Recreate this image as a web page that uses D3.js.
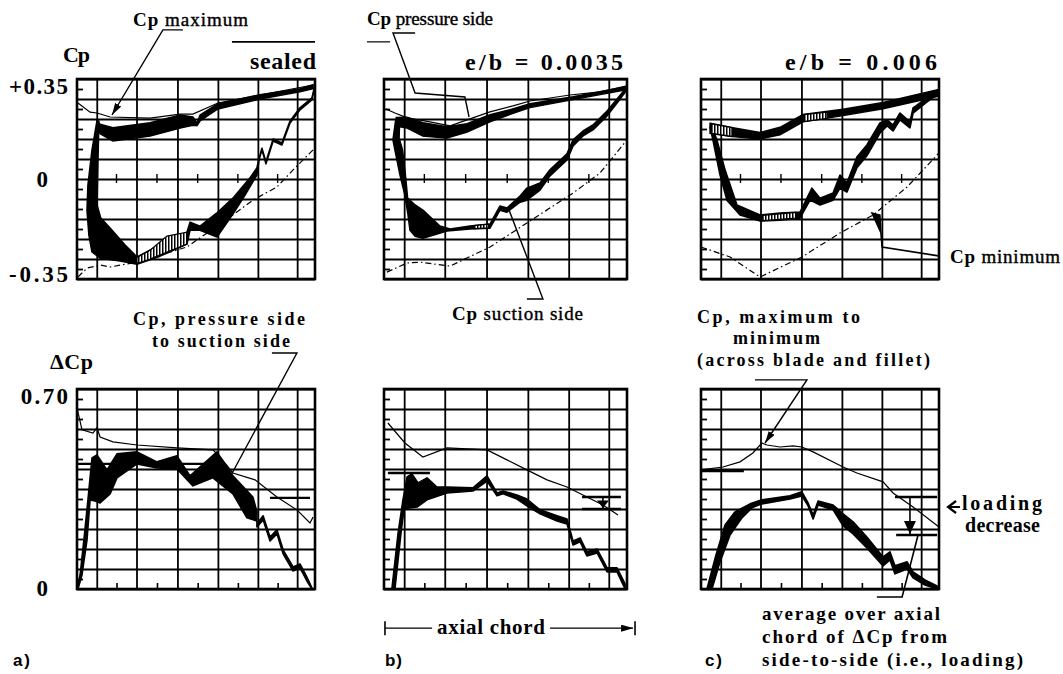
<!DOCTYPE html>
<html><head><meta charset="utf-8">
<script src="https://cdn.jsdelivr.net/npm/d3@7"></script>
<style>body{margin:0;background:#fff}</style>
</head><body>
<svg id="chart" width="1063" height="674"></svg>
<script>
// ---------------- axis / grid values ----------------
const xGridLines = [0.083, 0.25, 0.422, 0.592, 0.76, 0.925];
const xMinorTicks = [0.166, 0.336, 0.507, 0.676, 0.843];
const cpGridLines = [-0.35,-0.28,-0.21,-0.14,-0.07,0,0.07,0.14,0.21,0.28,0.35];
const cpMinorTicks = [-0.315,-0.245,-0.175,-0.105,-0.035,0.035,0.105,0.175,0.245,0.315];
const dcpGridLines = [0,0.07,0.14,0.21,0.28,0.35,0.42,0.49,0.56,0.63,0.70];
const dcpMinorTicks = [0.035,0.105,0.175,0.245,0.315,0.385,0.455,0.525,0.595,0.665];
const cpTickValues = [0.35, 0, -0.35];
const cpTickLabels = ["+0.35", "0", "-0.35"];
const dcpTickValues = [0.70, 0];
const dcpTickLabels = ["0.70", "0"];

// ---------------- (a) sealed : Cp ----------------
const tlMax = [[0.004,0.266],[0.055,0.234],[0.084,0.231],[0.139,0.217],[0.307,0.213],[0.433,0.227],[0.487,0.227],[0.592,0.266],[0.769,0.294],[0.992,0.329]];
const tlMin = [[0.004,-0.343],[0.042,-0.312],[0.097,-0.301],[0.139,-0.308],[0.252,-0.291],[0.462,-0.238],[0.655,-0.126],[0.739,-0.074],[0.840,-0.028],[0.908,0.032],[0.992,0.102]];
const tlPressure = [[0.084,0.186,0.205],[0.097,0.158,0.192],[0.151,0.133,0.180],[0.307,0.150,0.197],[0.433,0.178,0.224],[0.487,0.188,0.217],[0.504,0.186,0.196],[0.517,0.203,0.224],[0.592,0.245,0.264],[0.769,0.280,0.295],[0.937,0.305,0.316],[0.992,0.316,0.330]];
const tlSuctionA = [[0.084,0.203],[0.063,0.101],[0.046,-0.021],[0.042,-0.109],[0.050,-0.196],[0.063,-0.255],[0.097,-0.277],[0.181,-0.287],[0.252,-0.298],[0.349,-0.270],[0.462,-0.228],[0.475,-0.179],[0.517,-0.179],[0.588,-0.203],[0.655,-0.123],[0.706,-0.056],[0.756,0.014],[0.765,0.067],[0.777,0.102],[0.794,0.053],[0.824,0.133],[0.861,0.119],[0.895,0.196],[0.937,0.242],[0.987,0.277],[1.0,0.326]];
const tlSuctionB = [[0.092,0.203],[0.088,0.067],[0.084,-0.091],[0.100,-0.137],[0.139,-0.172],[0.202,-0.231],[0.252,-0.273],[0.349,-0.231],[0.462,-0.186],[0.475,-0.151],[0.517,-0.165],[0.588,-0.119],[0.655,-0.067],[0.727,0.004],[0.756,0.039],[0.765,0.072],[0.777,0.108],[0.794,0.060],[0.824,0.140],[0.861,0.126],[0.895,0.203],[0.937,0.249],[0.987,0.284],[1.0,0.329]];
const tlHatch = [[0.252,-0.296,-0.275],[0.307,-0.280,-0.249],[0.378,-0.256,-0.200],[0.462,-0.228,-0.186]];

// ---------------- (b) e/b = 0.0035 : Cp ----------------
const tmMax = [[0.008,0.245],[0.045,0.231],[0.095,0.214],[0.189,0.200],[0.272,0.186],[0.342,0.207],[0.436,0.235],[0.531,0.256],[0.601,0.273],[0.765,0.294],[0.889,0.305],[1.0,0.326]];
const tmMin = [[0.012,-0.326],[0.095,-0.294],[0.148,-0.291],[0.272,-0.305],[0.436,-0.238],[0.588,-0.154],[0.778,-0.049],[0.889,0.021],[1.0,0.137]];
const tmPressure = [[0.050,0.185,0.215],[0.095,0.178,0.216],[0.160,0.150,0.197],[0.259,0.143,0.183],[0.342,0.164,0.194],[0.436,0.200,0.225],[0.519,0.226,0.243],[0.601,0.250,0.264],[0.778,0.278,0.288],[1.0,0.313,0.323]];
const tmSuctionA = [[0.048,0.205],[0.037,0.137],[0.045,0.102],[0.066,0.014],[0.086,-0.056],[0.099,-0.126],[0.107,-0.179],[0.128,-0.200],[0.160,-0.207],[0.259,-0.182],[0.354,-0.175],[0.436,-0.172],[0.477,-0.109],[0.506,-0.116],[0.560,-0.081],[0.588,-0.074],[0.642,-0.039],[0.683,0.011],[0.753,0.067],[0.778,0.116],[0.819,0.151],[0.860,0.172],[0.918,0.221],[0.959,0.266],[1.0,0.312]];
const tmSuctionB = [[0.064,0.205],[0.062,0.144],[0.076,0.102],[0.088,0.014],[0.097,-0.067],[0.128,-0.091],[0.160,-0.109],[0.230,-0.165],[0.272,-0.175],[0.354,-0.165],[0.436,-0.158],[0.477,-0.095],[0.506,-0.102],[0.560,-0.060],[0.588,-0.032],[0.642,-0.014],[0.683,0.032],[0.753,0.088],[0.778,0.137],[0.819,0.168],[0.860,0.189],[0.918,0.238],[0.959,0.280],[1.0,0.322]];
const tmHatch = [[0.37,-0.174,-0.163],[0.43,-0.171,-0.158]];

// ---------------- (c) e/b = 0.006 : Cp ----------------
const trMin = [[0,-0.238],[0.122,-0.273],[0.248,-0.343],[0.424,-0.273],[0.584,-0.189],[0.723,-0.126],[0.866,-0.028],[1.0,0.091]];
const trPressure = [[0.038,0.160,0.195],[0.122,0.149,0.181],[0.248,0.140,0.163],[0.332,0.155,0.181],[0.429,0.200,0.226],[0.597,0.222,0.244],[0.765,0.246,0.268],[1.0,0.290,0.314]];
const trSuctionA = [[0.038,0.182],[0.050,0.137],[0.080,0.014],[0.109,-0.074],[0.164,-0.126],[0.248,-0.147],[0.332,-0.144],[0.416,-0.137],[0.458,-0.074],[0.500,-0.091],[0.555,-0.074],[0.584,-0.032],[0.613,-0.046],[0.655,0.039],[0.697,0.081],[0.752,0.161],[0.782,0.186],[0.807,0.168],[0.836,0.207],[0.878,0.179],[0.891,0.231],[0.950,0.270],[1.0,0.301]];
const trSuctionB = [[0.042,0.189],[0.067,0.137],[0.101,0.032],[0.151,-0.091],[0.248,-0.126],[0.332,-0.119],[0.416,-0.116],[0.466,-0.032],[0.500,-0.067],[0.555,-0.049],[0.584,0.014],[0.613,-0.014],[0.655,0.077],[0.697,0.119],[0.752,0.196],[0.782,0.207],[0.807,0.189],[0.836,0.231],[0.878,0.200],[0.891,0.249],[0.950,0.284],[1.0,0.312]];
const trHatchLE = [[0.045,0.160,0.193],[0.13,0.149,0.180]];
const trHatchMid = [[0.43,0.201,0.225],[0.53,0.212,0.234]];
const trHatchLow = [[0.26,-0.146,-0.127],[0.40,-0.137,-0.117]];

// ---------------- (a) sealed : delta Cp ----------------
const blMaxMin = [[0,0.634],[0.021,0.557],[0.067,0.546],[0.084,0.564],[0.097,0.532],[0.151,0.515],[0.252,0.504],[0.420,0.494],[0.571,0.487],[0.601,0.462],[0.655,0.406],[0.748,0.382],[0.840,0.322],[0.924,0.277],[0.979,0.231],[0.992,0.252]];
const blLoadA = [[0.004,0],[0.021,0.049],[0.042,0.172],[0.055,0.312],[0.076,0.308],[0.097,0.301],[0.139,0.333],[0.168,0.389],[0.252,0.438],[0.336,0.424],[0.420,0.420],[0.487,0.361],[0.571,0.389],[0.655,0.333],[0.714,0.249],[0.756,0.238],[0.756,0.217],[0.782,0.242],[0.811,0.168],[0.840,0.193],[0.866,0.123],[0.908,0.063],[0.937,0.074],[0.966,0.028],[0.987,0]];
const blLoadB = [[0,0],[0.013,0.049],[0.029,0.172],[0.046,0.312],[0.063,0.459],[0.084,0.469],[0.126,0.417],[0.168,0.473],[0.252,0.480],[0.336,0.445],[0.420,0.466],[0.475,0.396],[0.588,0.480],[0.655,0.396],[0.739,0.322],[0.756,0.270],[0.756,0.228],[0.782,0.256],[0.811,0.182],[0.840,0.207],[0.866,0.137],[0.908,0.077],[0.937,0.088],[0.966,0.042],[0.987,0.004]];
const blAverages = [[0,0.55,0.438],[0.811,0.979,0.319]];

// ---------------- (b) e/b = 0.0035 : delta Cp ----------------
const bmMaxMin = [[0.016,0.581],[0.086,0.511],[0.160,0.462],[0.259,0.494],[0.424,0.487],[0.506,0.452],[0.588,0.417],[0.671,0.382],[0.753,0.357],[0.835,0.322],[0.901,0.294],[0.963,0.259]];
const bmLoadA = [[0.045,0],[0.070,0.196],[0.082,0.277],[0.107,0.284],[0.136,0.287],[0.177,0.312],[0.259,0.336],[0.366,0.343],[0.424,0.378],[0.465,0.326],[0.490,0.333],[0.547,0.315],[0.588,0.291],[0.642,0.263],[0.712,0.238],[0.753,0.228],[0.778,0.154],[0.807,0.165],[0.835,0.116],[0.877,0.126],[0.918,0.060],[0.959,0.060],[0.992,0]];
const bmLoadB = [[0.033,0.004],[0.058,0.196],[0.078,0.312],[0.095,0.392],[0.115,0.403],[0.140,0.371],[0.177,0.389],[0.218,0.357],[0.259,0.357],[0.366,0.354],[0.424,0.396],[0.465,0.336],[0.490,0.343],[0.547,0.329],[0.588,0.315],[0.642,0.277],[0.712,0.256],[0.753,0.245],[0.778,0.168],[0.807,0.179],[0.835,0.130],[0.877,0.140],[0.918,0.074],[0.959,0.074],[0.992,0.018]];
const bmAverages = [[0.016,0.189,0.406],[0.815,0.975,0.322],[0.815,0.975,0.280]];
const bmDecrease = [0.901, 0.322, 0.280];

// ---------------- (c) e/b = 0.006 : delta Cp ----------------
const brMaxMin = [[0,0.417],[0.092,0.427],[0.164,0.445],[0.218,0.476],[0.256,0.511],[0.277,0.504],[0.332,0.497],[0.387,0.501],[0.424,0.497],[0.471,0.480],[0.597,0.427],[0.655,0.406],[0.765,0.375],[0.807,0.336],[0.891,0.287],[1.0,0.217]];
const brLoadA = [[0.046,0],[0.080,0.095],[0.122,0.189],[0.172,0.249],[0.214,0.284],[0.256,0.298],[0.374,0.315],[0.424,0.326],[0.450,0.291],[0.471,0.245],[0.492,0.294],[0.555,0.277],[0.597,0.221],[0.639,0.193],[0.697,0.144],[0.765,0.081],[0.794,0.102],[0.815,0.053],[0.866,0.070],[0.891,0.039],[0.941,0.014],[0.992,0]];
const brLoadB = [[0.025,0],[0.063,0.119],[0.101,0.224],[0.143,0.270],[0.206,0.298],[0.256,0.312],[0.374,0.326],[0.424,0.340],[0.450,0.301],[0.471,0.259],[0.492,0.308],[0.555,0.294],[0.597,0.263],[0.639,0.235],[0.697,0.182],[0.765,0.112],[0.794,0.130],[0.815,0.081],[0.866,0.095],[0.891,0.060],[0.941,0.032],[0.992,0.011]];
const brAverages = [[0,0.18,0.413],[0.815,0.992,0.322],[0.82,0.992,0.189]];
const brDecrease = [0.878, 0.322, 0.189];

// ---------------- annotation leaders (panel data coordinates) ----------------
const leaderCpMax = [[0.445,0.522],[0.361,0.522],[0.147,0.224]];
const overlineSealed = [[0.651,0.480],[1.0,0.480]];
const leaderPressure = [[0.128,0.511],[0.037,0.511],[0.128,0.301],[0.333,0.287],[0.350,0.217]];
const dashPressure = [[-0.07,0.480],[0.025,0.480]];
const leaderSuction = [[0.510,-0.098],[0.654,-0.42],[0.588,-0.42]];
const wedgeCpMin = [[0.718,-0.119],[0.752,-0.126],[0.756,-0.189]];
const leaderCpMin = [[0.756,-0.189],[0.761,-0.238],[1.004,-0.270]];
const leaderPsSs = [[0.819,0.826],[0.924,0.826],[0.643,0.392]];
const leaderMaxMin = [[0.227,0.732],[0.445,0.732],[0.269,0.511]];
const leaderAverage = [[0.739,-0.028],[0.845,-0.028],[0.912,0.189]];
const axialChordLeft = [[0.004,-0.137],[0.198,-0.137]];
const axialChordRight = [[0.683,-0.137],[1.025,-0.137]];
const axialChordEnds = [0.004, 1.033];

// ---------------- layout ----------------
const colX = [77, 384, 701], colW = [238, 243, 238];
const rowY = [79, 389], rowH = 200;
const serif = "'Liberation Serif','Times New Roman',serif";
const sans = "'Liberation Sans',Arial,sans-serif";

const panels = [
  {col:0,row:0, thin:[tlMax], dash:[tlMin], bands:[tlPressure], polys:[[tlSuctionA,tlSuctionB]], hatch:[tlHatch]},
  {col:1,row:0, thin:[tmMax], dash:[tmMin], bands:[tmPressure], polys:[[tmSuctionA,tmSuctionB]], hatch:[tmHatch]},
  {col:2,row:0, thin:[], dash:[trMin], bands:[trPressure], polys:[[trSuctionA,trSuctionB]], hatch:[trHatchLE,trHatchMid,trHatchLow]},
  {col:0,row:1, thin:[blMaxMin], dash:[], bands:[], polys:[[blLoadA,blLoadB]], hatch:[], avg:blAverages},
  {col:1,row:1, thin:[bmMaxMin], dash:[], bands:[], polys:[[bmLoadA,bmLoadB]], hatch:[], avg:bmAverages, dec:bmDecrease},
  {col:2,row:1, thin:[brMaxMin], dash:[], bands:[], polys:[[brLoadA,brLoadB]], hatch:[], avg:brAverages, dec:brDecrease}
];

const svg = d3.select("#chart");
svg.append("rect").attr("width",1063).attr("height",674).attr("fill","#fff");
const defs = svg.append("defs");
const pat = defs.append("pattern").attr("id","hatch").attr("patternUnits","userSpaceOnUse").attr("width",3).attr("height",4);
pat.append("rect").attr("width",3).attr("height",4).attr("fill","#fff");
pat.append("rect").attr("width",1.5).attr("height",4).attr("fill","#000");
defs.append("marker").attr("id","arrow").attr("viewBox","0 0 12 7").attr("refX",12).attr("refY",3.5)
  .attr("markerWidth",12).attr("markerHeight",7).attr("markerUnits","userSpaceOnUse").attr("orient","auto")
  .append("path").attr("d","M0,0 L12,3.5 L0,7 Z").attr("fill","#000");

const P = {};
panels.forEach((p, i) => {
  const x0 = colX[p.col], w = colW[p.col], y0 = rowY[p.row];
  const x = d3.scaleLinear().domain([0,1]).range([x0, x0 + w]);
  const y = p.row === 0 ? d3.scaleLinear().domain([-0.35,0.35]).range([y0 + rowH, y0])
                        : d3.scaleLinear().domain([0,0.7]).range([y0 + rowH, y0]);
  p.x = x; p.y = y;
  const g = svg.append("g");
  const gl = g.append("g").attr("transform",`translate(${x0},0)`)
    .call(d3.axisLeft(y).tickValues(p.row===0?cpGridLines:dcpGridLines).tickSize(-w).tickFormat(""));
  const gv = g.append("g").attr("transform",`translate(0,${y0+rowH})`)
    .call(d3.axisBottom(x).tickValues(xGridLines).tickSize(-rowH).tickFormat(""));
  const gm = g.append("g").attr("transform",`translate(${x0},0)`)
    .call(d3.axisLeft(y).tickValues(p.row===0?cpMinorTicks:dcpMinorTicks).tickSize(-6).tickFormat(""));
  [gl,gv,gm].forEach(a => { a.select(".domain").remove(); a.selectAll("line").attr("stroke","#000").attr("stroke-width",1.8); });
  if (p.row === 1) {
    const gb = g.append("g").attr("transform",`translate(0,${y0+rowH})`)
      .call(d3.axisBottom(x).tickValues(xMinorTicks).tickSize(-6).tickFormat(""));
    gb.select(".domain").remove(); gb.selectAll("line").attr("stroke","#000").attr("stroke-width",1.6);
  } else {
    g.append("g").selectAll("line").data(xMinorTicks).join("line")
      .attr("x1",d=>x(d)).attr("x2",d=>x(d)).attr("y1",y(0)-5).attr("y2",y(0)+4)
      .attr("stroke","#000").attr("stroke-width",1.4);
  }
  g.append("rect").attr("x",x0).attr("y",y0).attr("width",w).attr("height",rowH)
    .attr("fill","none").attr("stroke","#000").attr("stroke-width",2.6);

  const line = d3.line().x(d=>x(d[0])).y(d=>y(d[1]));
  const area = d3.area().x(d=>x(d[0])).y0(d=>y(d[1])).y1(d=>y(d[2]));
  p.dash.forEach(s => g.append("path").attr("d",line(s)).attr("fill","none").attr("stroke","#000")
    .attr("stroke-width",1.2).attr("stroke-dasharray","6,3,1.5,3"));
  p.thin.forEach(s => g.append("path").attr("d",line(s)).attr("fill","none").attr("stroke","#000").attr("stroke-width",1.2));
  p.bands.forEach(s => g.append("path").attr("d",area(s)).attr("fill","#000").attr("stroke","#000").attr("stroke-width",1.4));
  p.polys.forEach(([a,b]) => g.append("path").attr("d", line(a.concat(b.slice().reverse())) + "Z")
    .attr("fill","#000").attr("stroke","#000").attr("stroke-width",1.6).attr("stroke-linejoin","round"));
  p.hatch.forEach(s => g.append("path").attr("d",area(s)).attr("fill","url(#hatch)").attr("stroke","#000").attr("stroke-width",1.2));
  if (p.avg) g.append("g").selectAll("line").data(p.avg).join("line")
    .attr("x1",d=>x(d[0])).attr("x2",d=>x(d[1])).attr("y1",d=>y(d[2])).attr("y2",d=>y(d[2]))
    .attr("stroke","#000").attr("stroke-width",2.4);
  if (p.dec) {
    const [dx, v1, v2] = p.dec;
    const X = x(dx), Y1 = y(v1), Y2 = y(v2);
    g.append("line").attr("x1",X).attr("x2",X).attr("y1",Y1).attr("y2",Y2).attr("stroke","#000").attr("stroke-width",1.6);
    const th = Math.min(14, (Y2-Y1)*0.7);
    g.append("path").attr("d",`M${X-6},${Y2-th} L${X+6},${Y2-th} L${X},${Y2-1} Z`).attr("fill","#000");
  }
  // tick labels on the left column
  if (p.col === 0) {
    const vals = p.row===0 ? cpTickValues : dcpTickValues;
    const labs = p.row===0 ? cpTickLabels : dcpTickLabels;
    g.append("g").selectAll("text").data(vals).join("text")
      .attr("x", (d,j) => labs[j] === "0" ? x0 - 29 : x0 - 9)
      .attr("y", d => y(d))
      .attr("dy", d => d === y.domain()[1] ? "0.64em" : (d === -0.35 ? "0.14em" : (p.row===1 ? "0.3em" : "0.36em")))
      .attr("text-anchor","end").attr("font-family",serif).attr("font-weight","bold").attr("font-size",23)
      .attr("textLength",(d,j) => labs[j].length > 3 ? labs[j].length * 11.8 : null)
      .attr("lengthAdjust","spacing")
      .text((d,j) => labs[j]);
  }
  P[i] = p;
});

// --------- annotations ---------
function leader(p, pts, opts = {}) {
  const line = d3.line().x(d=>p.x(d[0])).y(d=>p.y(d[1]));
  const path = svg.append("path").attr("d", line(pts) + (opts.closed ? "Z" : ""))
    .attr("fill", opts.closed ? "#000" : "none").attr("stroke","#000").attr("stroke-width", opts.sw || 1.4);
  if (opts.arrow) path.attr("marker-end","url(#arrow)");
  return path;
}
leader(P[0], leaderCpMax, {arrow:true});
leader(P[0], overlineSealed, {sw:1.6});
leader(P[1], leaderPressure);
leader(P[1], dashPressure, {sw:1.2});
leader(P[1], leaderSuction);
leader(P[2], wedgeCpMin, {closed:true});
leader(P[2], leaderCpMin, {sw:1.6});
leader(P[3], leaderPsSs);
leader(P[5], leaderMaxMin, {arrow:true});
leader(P[5], leaderAverage, {sw:1.6});
leader(P[4], axialChordLeft);
leader(P[4], axialChordRight, {arrow:true});
axialChordEnds.forEach(v => {
  const X = P[4].x(v), Y = P[4].y(-0.137);
  svg.append("line").attr("x1",X).attr("x2",X).attr("y1",Y-7).attr("y2",Y+7).attr("stroke","#000").attr("stroke-width",1.6);
});
// "loading decrease" chevron
{
  const X = P[5].x(1.038), Y = P[5].y(0.287);
  svg.append("path").attr("d",`M${X+8},${Y-6} L${X},${Y} L${X+8},${Y+6} M${X},${Y} L${X+12},${Y}`)
    .attr("fill","none").attr("stroke","#000").attr("stroke-width",2.2);
}

// --------- texts ---------
function txt(parts, x, y, size, len, opts = {}) {
  const t = svg.append("text").attr("x",x).attr("y",y).attr("font-family", opts.family || serif)
    .attr("font-size",size).attr("fill","#000");
  if (opts.anchor) t.attr("text-anchor", opts.anchor);
  if (len) t.attr("textLength",len).attr("lengthAdjust","spacing");
  parts.forEach(([s,b]) => {
    const ts = t.append("tspan").text(s).attr("font-weight", b ? "bold" : "normal");
    if (!b) ts.attr("stroke","#000").attr("stroke-width",0.4);
  });
  return t;
}
txt([["Cp",true],[" maximum",false]], 133, 26, 19, 115);
txt([["Cp",true]], 63, 62, 22, 27);
txt([["sealed",true]], 316, 69, 24, 66, {anchor:"end"});
txt([["e/b  =  0.0035",true]], 465, 70, 24, 158);
txt([["e/b  =  0.006",true]], 785, 70, 24, 152);
txt([["Cp",true],[" pressure side",false]], 367, 25, 19, 126);
txt([["Cp",true],[" suction side",false]], 452, 320, 19, 131);
txt([["Cp",true],[" minimum",false]], 950, 263, 19, 110);
txt([["ΔCp",true]], 50, 369, 22, 43);
txt([["Cp, pressure side",true]], 133, 325, 18, 172);
txt([["to suction side",true]], 152, 347, 18, 138);
txt([["Cp, maximum to",true]], 697, 323, 18, 163);
txt([["minimum",true]], 733, 344, 18, 87);
txt([["(across blade and fillet)",true]], 697, 366, 18, 233);
txt([["loading",true]], 962, 510, 20, 80);
txt([["decrease",true]], 965, 532, 20, 75);
txt([["average over axial",true]], 762, 620, 19, 178);
txt([["chord of ΔCp from",true]], 762, 643, 19, 185);
txt([["side-to-side (i.e., loading)",true]], 762, 666, 19, 261);
txt([["axial chord",true]], 437, 634, 21, 108);
txt([["a)",true]], 13, 666, 17, 17, {family:sans});
txt([["b)",true]], 385, 666, 17, 17, {family:sans});
txt([["c)",true]], 705, 666, 17, 17, {family:sans});
</script>
</body></html>
